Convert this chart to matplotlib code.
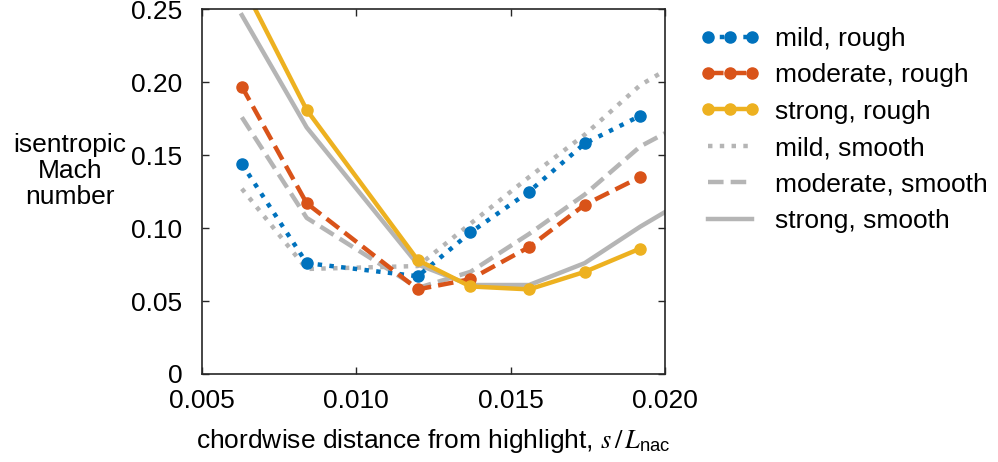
import matplotlib
matplotlib.use('Agg')
import matplotlib.pyplot as plt

# chordwise stations s/L_nac
s_rough = [0.0063, 0.0084, 0.0120, 0.0137, 0.0156, 0.0174, 0.0192]
s_smooth = [0.0063, 0.0084, 0.0120, 0.0137, 0.0156, 0.0174, 0.0192, 0.0200]

# isentropic Mach number, rough surface
mild_rough = [0.144, 0.076, 0.067, 0.097, 0.125, 0.158, 0.177]
moderate_rough = [0.197, 0.117, 0.058, 0.065, 0.087, 0.116, 0.135]
strong_rough = [0.268, 0.181, 0.078, 0.060, 0.058, 0.070, 0.086]

# isentropic Mach number, smooth surface
mild_smooth = [0.127, 0.072, 0.074, 0.103, 0.135, 0.164, 0.198, 0.208]
moderate_smooth = [0.176, 0.107, 0.059, 0.070, 0.096, 0.123, 0.156, 0.165]
strong_smooth = [0.246, 0.169, 0.075, 0.061, 0.061, 0.076, 0.101, 0.111]

labels = ['mild, rough', 'moderate, rough', 'strong, rough',
          'mild, smooth', 'moderate, smooth', 'strong, smooth']

blue, orange, yellow, grey = '#0072BD', '#D95319', '#EDB120', '#b5b5b5'

plt.rcParams['font.family'] = 'Liberation Sans'
plt.rcParams['mathtext.fontset'] = 'stix'
fs = 19

fig = plt.figure(figsize=(9.98, 4.62), dpi=100)
ax = fig.add_axes([0.2021, 0.1905, 0.4642, 0.7894])

lw = 3.2
ms = 8
h1, = ax.plot(s_rough, mild_rough, ':', color=blue, lw=lw, marker='o', ms=ms)
h2, = ax.plot(s_rough, moderate_rough, '--', color=orange, lw=lw, marker='o', ms=ms,
              dashes=(3.5, 1.6))
h3, = ax.plot(s_rough, strong_rough, '-', color=yellow, lw=lw, marker='o', ms=ms)
h4, = ax.plot(s_smooth, mild_smooth, ':', color=grey, lw=lw)
h5, = ax.plot(s_smooth, moderate_smooth, '--', color=grey, lw=lw, dashes=(3.5, 1.6))
h6, = ax.plot(s_smooth, strong_smooth, '-', color=grey, lw=lw)
for h in (h4, h5, h6):
    h.set_zorder(1)

ax.set_xlim(0.005, 0.020)
ax.set_ylim(0, 0.25)
ax.set_xticks([0.005, 0.010, 0.015, 0.020], ['0.005', '0.010', '0.015', '0.020'])
ax.set_yticks([0, 0.05, 0.10, 0.15, 0.20, 0.25], ['0', '0.05', '0.10', '0.15', '0.20', '0.25'])
ax.tick_params(direction='in', length=5, width=1, top=True, right=True,
               labelsize=fs, colors='#262626', labelcolor='black')
ax.tick_params(axis='y', pad=14)
ax.tick_params(axis='x', pad=11)
for sp in ax.spines.values():
    sp.set_color('#262626')
    sp.set_linewidth(1.2)

ax.set_xlabel('chordwise distance from highlight, $s\\,/\\,L_{\\mathregular{nac}}$',
              fontsize=fs, labelpad=10)
fig.text(0.070, 0.630, 'isentropic\nMach\nnumber', fontsize=fs,
         ha='center', va='center', multialignment='center', linespacing=1.12)

ax.legend([h1, h2, h3, h4, h5, h6], labels, loc='upper left',
          bbox_to_anchor=(0.701, 0.942), bbox_transform=fig.transFigure,
          frameon=False, fontsize=fs, handlelength=2.27, handletextpad=0.6,
          labelspacing=0.47, borderaxespad=0, borderpad=0, numpoints=3)

fig.savefig('out.png', dpi=100)
